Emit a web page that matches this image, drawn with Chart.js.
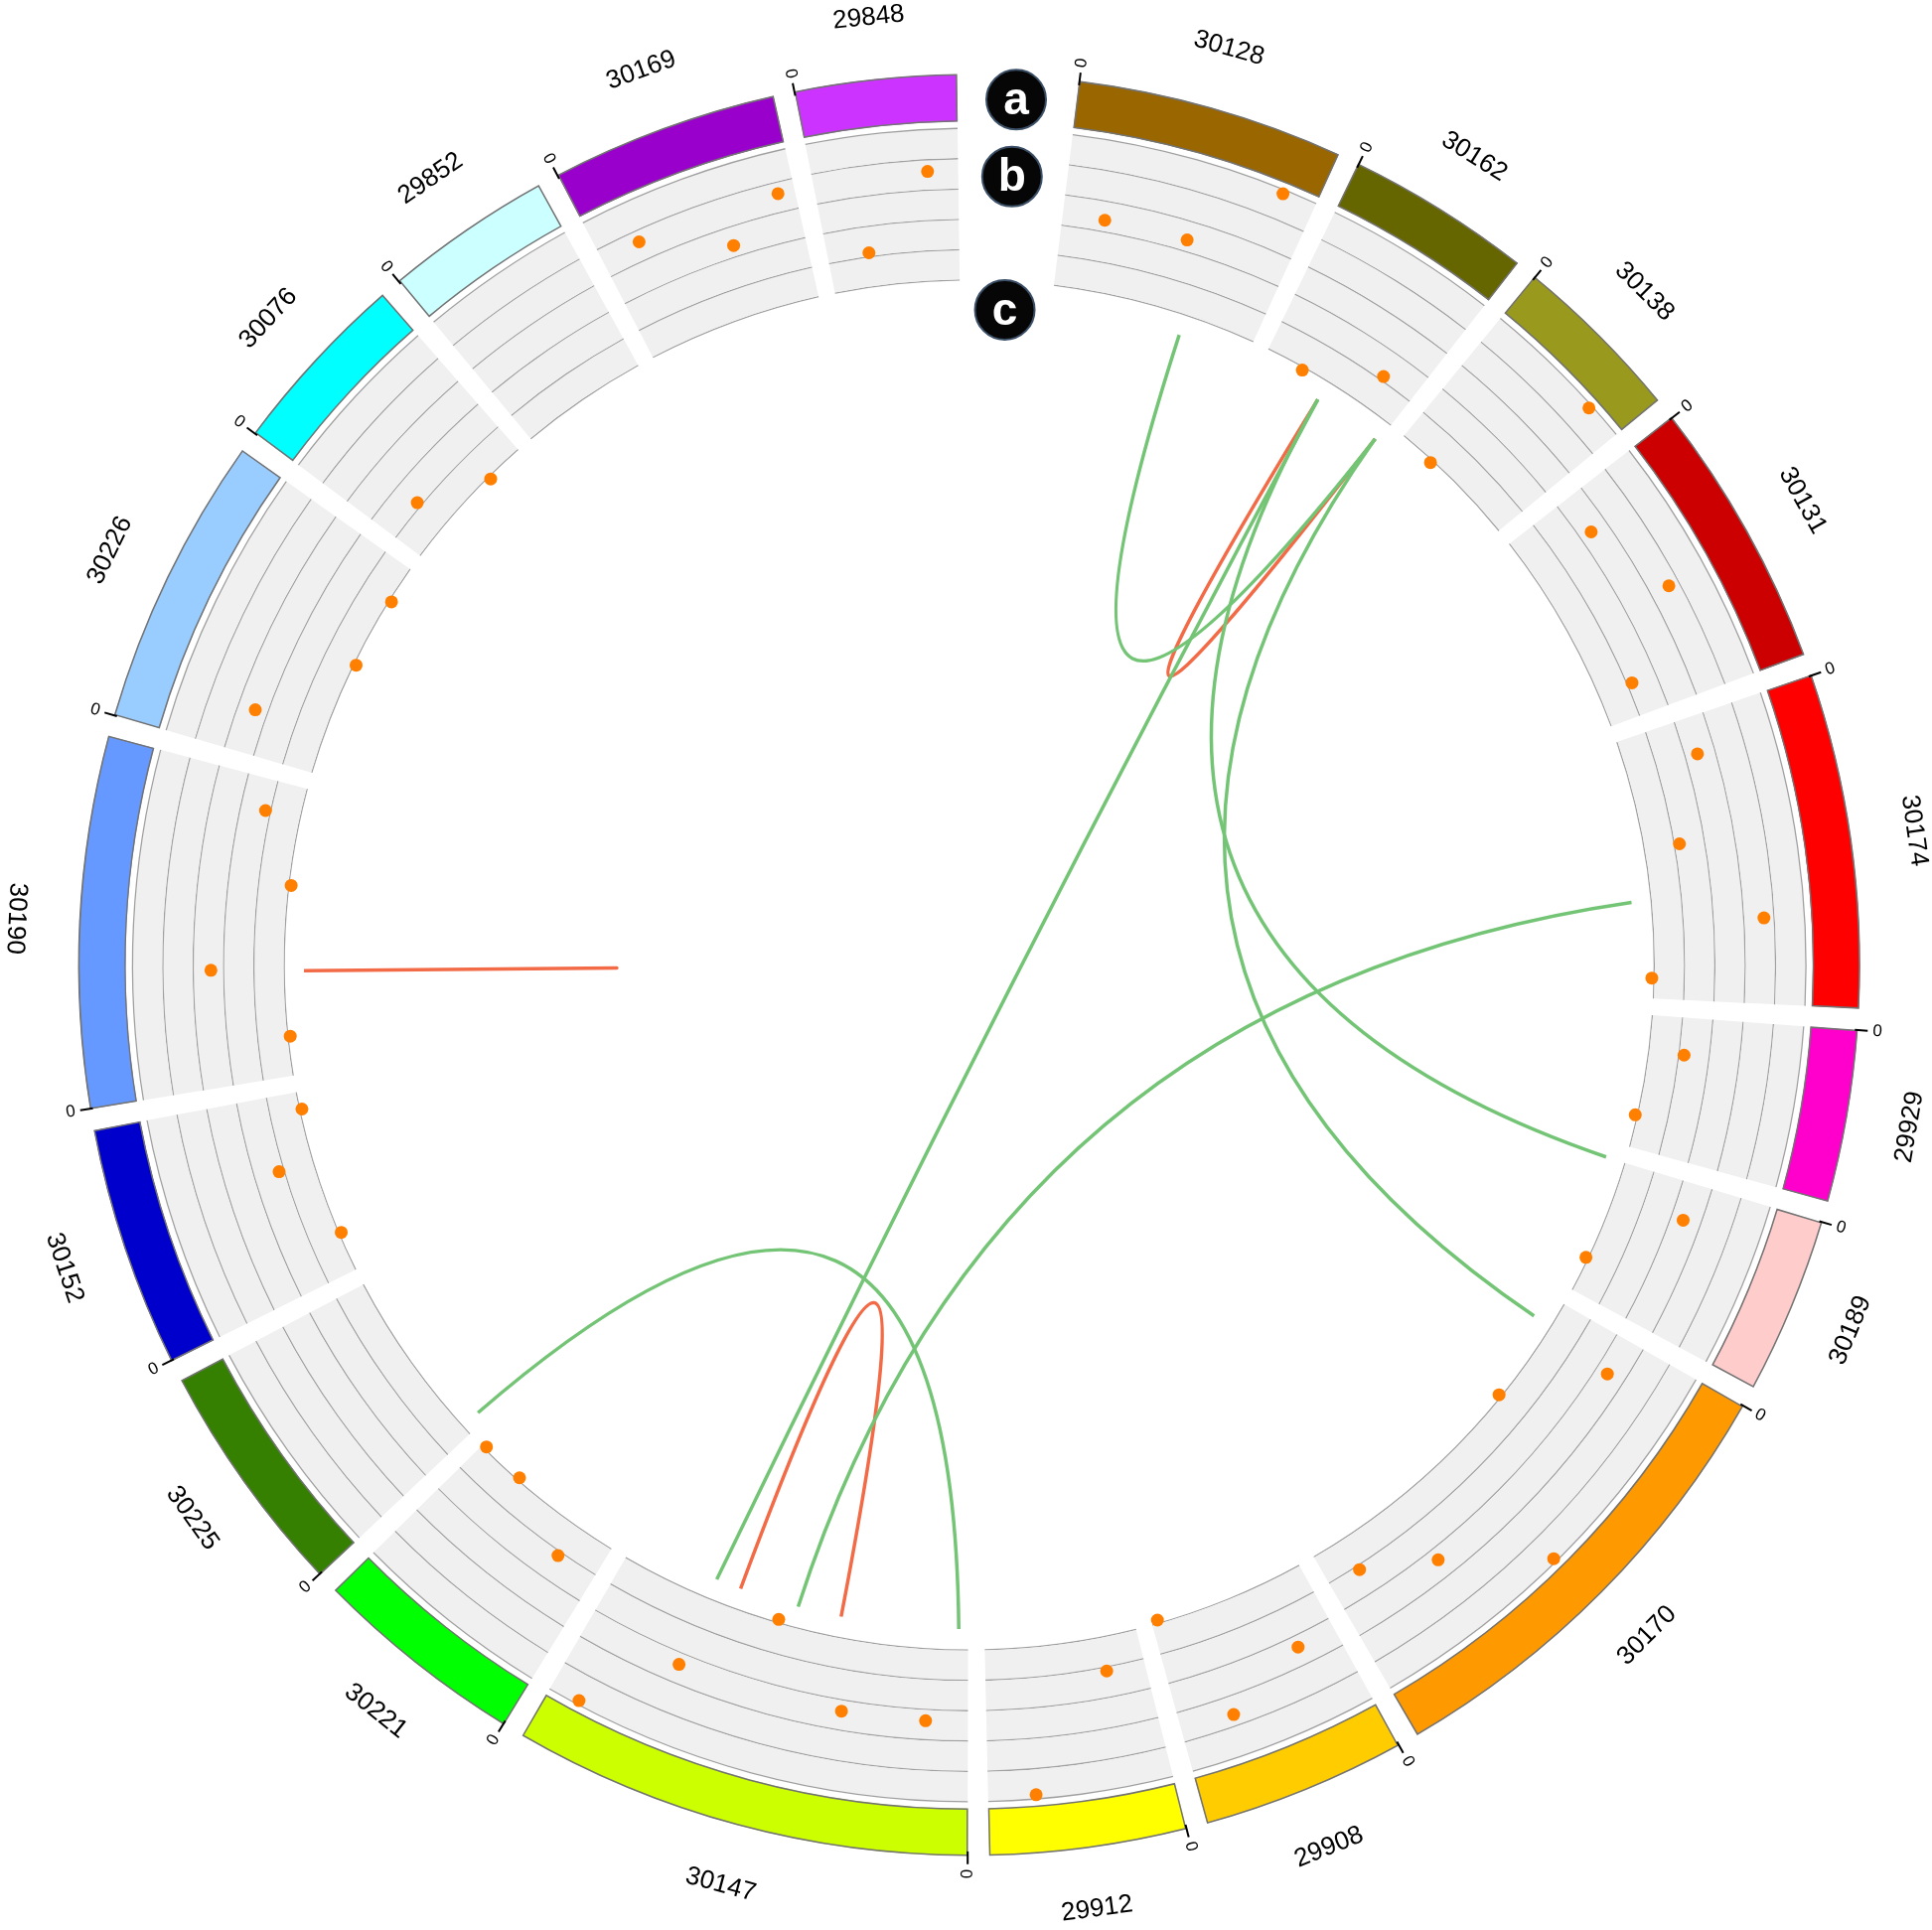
<!DOCTYPE html>
<html>
<head>
<meta charset="utf-8">
<title>Circos plot</title>
<script src="https://cdn.jsdelivr.net/npm/chart.js@4.4.1/dist/chart.umd.min.js"></script>
<style>
  html, body { margin:0; padding:0; background:#ffffff; overflow:hidden; }
  #chart { display:block; }
</style>
</head>
<body>
<canvas id="chart" width="1945" height="1943"></canvas>
<script>
// ================= DATA =================
const segmentNames = ['30128','30162','30138','30131','30174','29929','30189','30170','29908','29912','30147','30221','30225','30152','30190','30226','30076','29852','30169','29848'];
const segmentLengths = [1740,1210,1125,1755,2180,1120,1150,3010,1330,1280,3000,1390,1540,1570,2420,1900,1210,1090,1480,1050];
const segmentColors = ['rgb(153,102,0)','rgb(102,102,0)','rgb(153,153,30)','rgb(204,0,0)','rgb(255,0,0)','rgb(255,0,204)','rgb(255,204,204)','rgb(255,153,0)','rgb(255,204,0)','rgb(255,255,0)','rgb(204,255,0)','rgb(0,255,0)','rgb(53,128,0)','rgb(0,0,204)','rgb(102,153,255)','rgb(153,204,255)','rgb(0,255,255)','rgb(204,255,255)','rgb(153,0,204)','rgb(204,51,255)'];

// scatter track (b): segment, position inside segment, value (0..4)
const dotSegment = ['30128','30128','30128','30162','30162','30138','30138','30131','30131','30131','30174','30174','30174','30174','29929','29929','30189','30189','30170','30170','30170','30170','30170','29908','29908','29908','29912','29912','30147','30147','30147','30147','30147','30221','30221','30221','30152','30152','30152','30190','30190','30190','30190','30226','30226','30226','30076','30076','30169','30169','30169','29848','29848'];
const dotPosition = [320,960,1500, 330,920, 310,860, 305,945,1485, 280,930,1560,2010, 300,850, 290,860, 300,940,1580,2210,2750, 310,940,1280, 310,950, 320,960,1610,2240,2780, 330,970,1350, 330,970,1420, 330,890,1600,2170, 340,980,1590, 330,880, 300,940,1360, 330,830];
const dotValue = [2,2,4, 0,1, 0,4, 2,3,1, 2,1,3,0, 1,0, 2,0, 2,0,4,2,1, 2,3,0, 1,4, 2,2,0,2,4, 1,0,0, 0,1,0, 0,2,0,1, 2,0,0, 1,0, 3,2,3, 1,3];
const trackMax = 4;

// links (c) — red ones listed first so green is drawn over them
const linkSourceSeg = ['30147','30162','30190','30128','30162','30162','30174','30225','30162'];
const linkSourcePos = [2000, 570, 880, 1130, 570, 1170, 1360, 80, 570];
const linkTargetSeg = ['30147','30162','30190','30162','30189','30170','30147','30147','30147'];
const linkTargetPos = [1100, 1170, 880, 1170, 0, 220, 1480, 80, 2220];
const linkKind = ['red','red','red','green','green','green','green','green','green'];

const badgeLabels = ['a','b','c'];
const zeroTickLabel = '0';

// ================= LAYOUT / STYLE =================
const ROTATION_DEG = 7.1, GAP_LEN = 140, TOP_GAP_LEN = 790;
const R_OUTER = 897, R_IDEO_IN = 849, R_TRACK_OUT = 843, R_TRACK_IN = 689;
const R_LINK = 672, R_CTRL = 40, R_LABEL = 964;
const TRACK_BANDS = 5, GRID_W = 1.3;
const BADGE_ANGLE = 3.1, BADGE_RADII = [877, 799, 664], BADGE_SIZE = 30;
const LINK_COLORS = { green: 'rgb(116,196,118)', red: 'rgb(242,106,70)' };
const FONT = '"Liberation Sans", Arial, Helvetica, sans-serif';

const nSeg = segmentNames.length;
const totalLen = segmentLengths.reduce((a, b) => a + b, 0) + GAP_LEN * (nSeg - 1) + TOP_GAP_LEN;
const segStart = [];
{ let acc = 0; for (let i = 0; i < nSeg; i++) { segStart.push(acc); acc += segmentLengths[i] + GAP_LEN; } }
function angleOf(name, pos) {
  const i = segmentNames.indexOf(name);
  return ROTATION_DEG + (segStart[i] + pos) / totalLen * 360;
}
function polar(deg, r) { const a = deg * Math.PI / 180; return { x: r * Math.sin(a), y: r * Math.cos(a) }; }

// arc sequence: segment, gap, segment, gap, ..., segment, top gap
const arcValues = [], arcSegIdx = [];
segmentLengths.forEach((len, i) => {
  arcValues.push(len); arcSegIdx.push(i);
  if (i < nSeg - 1) { arcValues.push(GAP_LEN); arcSegIdx.push(-1); }
});
arcValues.push(TOP_GAP_LEN); arcSegIdx.push(-1);

const CLEAR = 'rgba(0,0,0,0)';
function ring(weight, colorFn, extra) {
  return Object.assign({
    type: 'doughnut', data: arcValues, weight,
    rotation: ROTATION_DEG, circumference: 360, radius: R_OUTER,
    cutout: (R_TRACK_IN / R_OUTER * 100) + '%',
    borderWidth: 0, hoverBorderWidth: 0, hoverOffset: 0, offset: 0, spacing: 0,
    backgroundColor: arcSegIdx.map(k => k >= 0 ? colorFn(k) : CLEAR)
  }, extra || {});
}

const datasets = [];
datasets.push(ring(R_OUTER - R_IDEO_IN, k => segmentColors[k], {
  borderColor: '#737373', borderAlign: 'inner',
  borderWidth: arcSegIdx.map(k => k >= 0 ? 1.2 : 0)
}));
datasets.push(ring(R_IDEO_IN - R_TRACK_OUT, () => CLEAR));
const bandW = ((R_TRACK_OUT - R_TRACK_IN) - (TRACK_BANDS + 1) * GRID_W) / TRACK_BANDS;
for (let k = 0; k <= TRACK_BANDS; k++) {
  datasets.push(ring(GRID_W, () => '#a0a0a0'));
  if (k < TRACK_BANDS) datasets.push(ring(bandW, () => '#f0f0f0'));
}

const dotPoints = dotSegment.map((s, i) => {
  const r = R_TRACK_IN + GRID_W / 2 + dotValue[i] / trackMax * (R_TRACK_OUT - R_TRACK_IN - GRID_W);
  return polar(angleOf(s, dotPosition[i]), r);
});
datasets.push({
  type: 'scatter', data: dotPoints, weight: 0, order: -1,
  pointRadius: 6.5, pointHoverRadius: 6.5, pointBackgroundColor: '#ff7f00',
  pointBorderWidth: 0, showLine: false
});

const decor = {
  id: 'decor',
  beforeDatasetsDraw(chart) {
    const ctx = chart.ctx, xs = chart.scales.x, ys = chart.scales.y;
    const px = p => [xs.getPixelForValue(p.x), ys.getPixelForValue(p.y)];
    ctx.save();
    ctx.lineWidth = 3.5; ctx.lineCap = 'butt';
    linkSourceSeg.forEach((s, i) => {
      const a1 = angleOf(s, linkSourcePos[i]), a2 = angleOf(linkTargetSeg[i], linkTargetPos[i]);
      let mid = (a1 + a2) / 2; if (Math.abs(a1 - a2) > 180) mid += 180;
      const [x0, y0] = px(polar(a1, R_LINK)), [x2, y2] = px(polar(a2, R_LINK)), [xc, yc] = px(polar(mid, R_CTRL));
      ctx.beginPath(); ctx.moveTo(x0, y0); ctx.quadraticCurveTo(xc, yc, x2, y2);
      ctx.strokeStyle = LINK_COLORS[linkKind[i]]; ctx.stroke();
    });
    ctx.restore();
  },
  afterDatasetsDraw(chart) {
    const ctx = chart.ctx, xs = chart.scales.x, ys = chart.scales.y;
    const px = p => [xs.getPixelForValue(p.x), ys.getPixelForValue(p.y)];
    ctx.save();
    // zero ticks
    segmentNames.forEach((name) => {
      const a = angleOf(name, 0);
      const norm = ((a % 360) + 360) % 360;
      const [x1, y1] = px(polar(a, R_OUTER)), [x2, y2] = px(polar(a, R_OUTER + 13));
      ctx.beginPath(); ctx.moveTo(x1, y1); ctx.lineTo(x2, y2);
      ctx.strokeStyle = '#000'; ctx.lineWidth = 2; ctx.stroke();
      const [tx, ty] = px(polar(a, R_OUTER + 18));
      ctx.save(); ctx.translate(tx, ty);
      ctx.font = '17px ' + FONT; ctx.fillStyle = '#000'; ctx.textBaseline = 'middle';
      if (norm < 180) { ctx.rotate((a - 90) * Math.PI / 180); ctx.textAlign = 'left'; }
      else { ctx.rotate((a + 90) * Math.PI / 180); ctx.textAlign = 'right'; }
      ctx.fillText(zeroTickLabel, 0, 0);
      ctx.restore();
    });
    // segment labels
    segmentNames.forEach((name, i) => {
      const a = angleOf(name, segmentLengths[i] / 2);
      const norm = ((a % 360) + 360) % 360;
      const rot = (norm > 90 && norm <= 275) ? a - 180 : a;
      const [x, y] = px(polar(a, R_LABEL));
      ctx.save(); ctx.translate(x, y); ctx.rotate(rot * Math.PI / 180);
      ctx.font = '26px ' + FONT; ctx.fillStyle = '#000';
      ctx.textAlign = 'center'; ctx.textBaseline = 'middle';
      ctx.fillText(name, 0, 0);
      ctx.restore();
    });
    // badges
    badgeLabels.forEach((lab, i) => {
      const [x, y] = px(polar(BADGE_ANGLE, BADGE_RADII[i]));
      ctx.beginPath(); ctx.arc(x, y, BADGE_SIZE, 0, Math.PI * 2);
      ctx.fillStyle = '#060606'; ctx.fill();
      ctx.lineWidth = 2; ctx.strokeStyle = '#3b4f66'; ctx.stroke();
      ctx.font = 'bold 46px ' + FONT; ctx.fillStyle = '#ffffff';
      ctx.textAlign = 'center'; ctx.textBaseline = 'middle';
      ctx.fillText(lab, x, y + 2);
    });
    ctx.restore();
  }
};

new Chart(document.getElementById('chart'), {
  type: 'scatter',
  data: { datasets },
  options: {
    responsive: false, animation: false, events: [], devicePixelRatio: 1,
    layout: { padding: { left: 13, top: 3, right: 0, bottom: 0 } },
    scales: {
      x: { type: 'linear', display: false, min: -966, max: 966 },
      y: { type: 'linear', display: false, min: -970, max: 970 }
    },
    plugins: { legend: { display: false }, tooltip: { enabled: false } }
  },
  plugins: [decor]
});
</script>
</body>
</html>
